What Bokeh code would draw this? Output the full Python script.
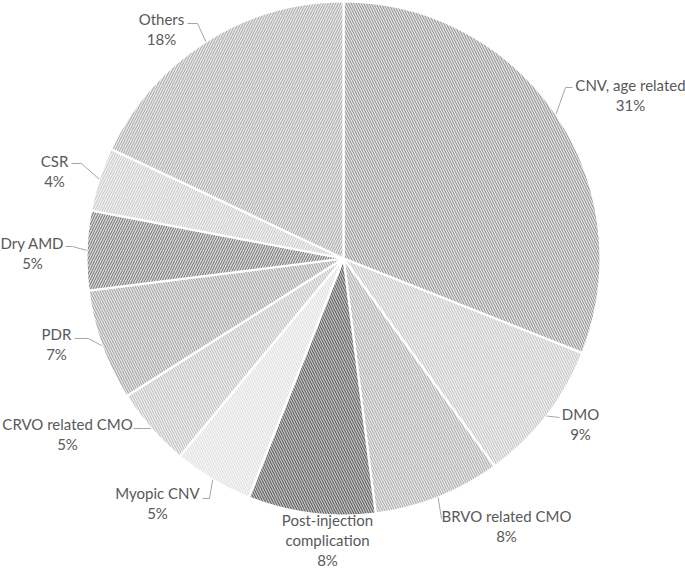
import math
from bokeh.plotting import figure
from bokeh.models import Range1d, ColumnDataSource
from bokeh.core.properties import value
from bokeh.embed import file_html
from bokeh.resources import INLINE

# ---- data ----
categories = ["CNV, age related", "DMO", "BRVO related CMO", "Post-injection\ncomplication",
              "Myopic CNV", "CRVO related CMO", "PDR", "Dry AMD", "CSR", "Others"]
percent = [31, 9, 8, 8, 5, 5, 7, 5, 4, 18]

# ---- styles ----
fill_bg = ["#e4e4e4", "#f0f0f0", "#e8e8e8", "#c4c4c4", "#f7f7f7",
           "#eeeeee", "#e6e6e6", "#dadada", "#f2f2f2", "#e8e8e8"]
hatch_col = ["#8c8c8c", "#c0c0c0", "#a6a6a6", "#505050", "#dcdcdc",
             "#bbbbbb", "#9c9c9c", "#6e6e6e", "#c4c4c4", "#a4a4a4"]
hatch_pat = ["\\", "\\", "\\", "\\", "\\", "\\", "\\", "/", "/", "/"]

W, H = 685, 568
CX, CY, R = 343, 258, 257  # pixel centre / radius

def fy(py):
    return H - py

# label centres (pixel) for first line, line spacing
label_pos = [(630, 84), (580, 413), (506, 515), (327, 519), (157, 492),
             (67, 423), (56, 333), (32, 242), (54, 160), (161, 18)]
LINE = 20
# leader line waypoints after the edge point (pixel)
leader_pts = [[(565, 87), (572, 87)], [(559, 417)], [(441, 518)], [],
              [(209, 498), (202, 498)], [(143, 428), (133, 428)],
              [(88, 338), (74, 338)], [(72, 246), (65, 246)],
              [(81, 163), (71, 163)], [(197, 23), (187, 23)]]

p = figure(width=W, height=H, x_range=Range1d(0, W), y_range=Range1d(0, H),
           toolbar_location=None, output_backend="svg", min_border=0)
p.axis.visible = False
p.grid.visible = False
p.outline_line_color = None
p.background_fill_color = "white"
p.border_fill_color = "white"

total = sum(percent)
starts, ends, mids = [], [], []
c = 0.0
for v in percent:
    f0 = c / total
    c += v
    f1 = c / total
    starts.append(math.pi / 2 - 2 * math.pi * f0)
    ends.append(math.pi / 2 - 2 * math.pi * f1)
    mids.append(2 * math.pi * (f0 + f1) / 2)  # clockwise from top

src = ColumnDataSource(dict(start=starts, end=ends, bg=fill_bg, hc=hatch_col, hp=hatch_pat))
p.wedge(x=CX, y=fy(CY), radius=R, start_angle="start", end_angle="end", direction="clock",
        fill_color="bg", hatch_color="hc", hatch_pattern="hp", hatch_scale=5, hatch_weight=1.0,
        line_color="white", line_width=2.2, source=src)

# leader lines
xs, ys = [], []
for i, m in enumerate(mids):
    if not leader_pts[i]:
        continue
    ex = CX + R * math.sin(m)
    ey = CY - R * math.cos(m)
    pts = [(ex, ey)] + leader_pts[i]
    xs.append([q[0] for q in pts])
    ys.append([fy(q[1]) for q in pts])
p.multi_line(xs=xs, ys=ys, line_color="#a6a6a6", line_width=1)

# labels
tx, ty, tt = [], [], []
for i, name in enumerate(categories):
    lines = name.split("\n") + [f"{percent[i]}%"]
    x0, y0 = label_pos[i]
    for k, ln in enumerate(lines):
        tx.append(x0)
        ty.append(fy(y0 + k * LINE))
        tt.append(ln)
p.text(x=tx, y=ty, text=tt, text_align="center", text_baseline="middle",
       text_font=value("Lato"), text_font_size="15px", text_color="#595959")

html = file_html(p, INLINE)
html = html.replace("<head>", "<head><style>html,body{margin:0;padding:0;overflow:hidden}</style>", 1)
open("out.html", "w").write(html)
